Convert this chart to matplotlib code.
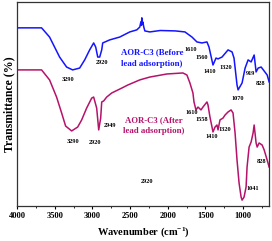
import matplotlib
matplotlib.use('Agg')
from matplotlib import pyplot as plt
from matplotlib.ticker import MultipleLocator

# AOR-C3 before lead adsorption (blue)
before_wn = [4000, 3674, 3568, 3435, 3342, 3262, 3169, 3102, 3036, 2983, 2956,
             2929, 2903, 2876, 2863, 2770, 2637, 2504, 2411, 2371, 2357, 2350,
             2344, 2337, 2331, 2318, 2304, 2238, 2100, 1900, 1772, 1679, 1613,
             1546, 1480, 1453, 1400, 1360, 1333, 1280, 1200, 1147, 1121, 1081,
             1067, 1014, 974, 934, 894, 854, 828, 801, 761, 681, 655]
before_t = [87.3, 87.3, 82.8, 73.0, 68.1, 66.7, 67.6, 71.6, 76.5, 79.9, 77.9,
            73.0, 73.0, 76.5, 79.9, 81.4, 82.8, 85.3, 86.3, 87.7, 90.2, 88.5,
            92.2, 89.0, 90.2, 87.7, 85.8, 85.3, 86.0, 85.8, 85.3, 82.8, 80.4,
            79.9, 80.4, 77.9, 69.1, 72.5, 72.1, 73.0, 76.5, 75.5, 72.5, 59.3,
            56.9, 60.3, 67.6, 71.6, 70.6, 74.0, 65.7, 67.6, 68.1, 64.2, 60.8]

# AOR-C3 after lead adsorption (magenta)
after_wn = [4000, 3674, 3568, 3475, 3408, 3355, 3275, 3195, 3142, 3076, 3009,
            2983, 2943, 2916, 2890, 2876, 2850, 2810, 2743, 2610, 2530, 2371,
            2238, 2012, 1799, 1746, 1706, 1666, 1652, 1626, 1599, 1559, 1533,
            1480, 1466, 1440, 1413, 1400, 1373, 1347, 1333, 1307, 1267, 1240,
            1200, 1160, 1134, 1107, 1081, 1054, 1027, 1014, 988, 961, 948, 921,
            894, 868, 854, 828, 814, 788, 748, 721, 681, 655]
after_t = [66.7, 66.7, 61.8, 53.4, 45.6, 39.2, 36.8, 38.7, 42.2, 48.0, 52.9,
           53.4, 48.0, 37.3, 43.1, 51.0, 51.5, 53.4, 55.4, 57.8, 59.3, 61.8,
           63.2, 64.7, 65.2, 64.2, 60.3, 55.4, 51.0, 47.1, 48.5, 47.1, 48.5,
           51.0, 49.5, 43.6, 38.7, 36.3, 38.7, 39.7, 37.3, 42.2, 43.1, 44.6,
           46.1, 47.1, 45.6, 35.8, 22.5, 11.3, 4.4, 2.9, 4.4, 9.3, 19.1, 28.9,
           31.4, 35.8, 39.7, 30.9, 28.9, 30.9, 29.9, 27.5, 22.5, 19.1]

# peak labels: (text, wavenumber, transmittance)
before_peaks = [('3290', 3328, 61.8), ('2920', 2876, 70.1), ('1610', 1693, 76.5),
                ('1560', 1546, 73.0), ('1410', 1440, 65.7), ('1320', 1227, 68.1),
                ('1070', 1067, 52.9), ('919', 908, 64.7), ('828', 775, 59.8)]
after_peaks = [('3290', 3262, 31.4), ('2920', 2969, 30.9), ('2949', 2770, 39.7),
               ('1610', 1679, 45.6), ('1558', 1546, 42.2), ('1410', 1413, 34.3),
               ('1320', 1240, 37.3), ('828', 761, 21.6), ('1041', 868, 8.8),
               ('2920', 2278, 11.8)]

blue = '#1414ff'
magenta = '#b5126a'
serif = 'Liberation Serif'

plt.rcParams['mathtext.fontset'] = 'custom'
plt.rcParams['mathtext.rm'] = 'Liberation Serif:bold'
plt.rcParams['mathtext.bf'] = 'Liberation Serif:bold'
plt.rcParams['mathtext.default'] = 'rm'


def main():
    fig = plt.figure(figsize=(2.72, 2.41), dpi=100)
    ax = fig.add_axes([0.0625, 0.145, 0.927, 0.847])

    ax.plot(before_wn, before_t, color=blue, lw=1.1)
    ax.plot(after_wn, after_t, color=magenta, lw=1.1)

    for txt, x, y in before_peaks:
        ax.text(x, y, txt, fontsize=4.5, fontweight='bold', family=serif,
                ha='center', va='center')
    for txt, x, y in after_peaks:
        ax.text(x, y, txt, fontsize=4.5, fontweight='bold', family=serif,
                ha='center', va='center')

    ax.text(2209, 72.5, 'AOR-C3 (Before\nlead adsorption)', color=blue,
            fontsize=6.3, fontweight='bold', family=serif, ha='center',
            va='center', linespacing=1.5)
    ax.text(2185, 39.5, 'AOR-C3 (After\nlead adsorption)', color=magenta,
            fontsize=6.3, fontweight='bold', family=serif, ha='center',
            va='center', linespacing=1.5)

    ax.set_xlim(4000, 655)
    ax.set_ylim(0, 100)
    ax.xaxis.set_major_locator(MultipleLocator(500))
    ax.xaxis.set_minor_locator(MultipleLocator(250))
    ax.xaxis.set_tick_params('major', length=2, width=0.8, labelsize=6, pad=2)
    ax.xaxis.set_tick_params('minor', length=1.5, width=0.6)
    ax.set_yticks([])
    for lbl in ax.get_xticklabels():
        lbl.set_fontfamily(serif)
        lbl.set_fontweight('bold')
    for sp in ax.spines.values():
        sp.set_linewidth(0.9)
        sp.set_color('#333333')

    ax.set_xlabel('Wavenumber (cm$^{-1}$)', fontsize=7.5, fontweight='bold',
                  family=serif, labelpad=4)
    ax.set_ylabel('Transmittance (%)', fontsize=8.5, fontweight='bold',
                  family=serif, labelpad=1)

    fig.savefig('out.png', dpi=100)


if __name__ == '__main__':
    main()
